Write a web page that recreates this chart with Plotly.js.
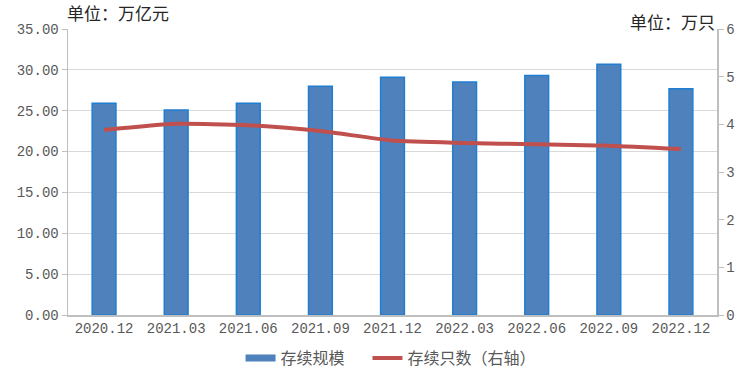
<!DOCTYPE html>
<html><head><meta charset="utf-8">
<script src="https://cdn.plot.ly/plotly-3.0.1.min.js"></script>
<style>body{margin:0;background:#fff}#c{width:747px;height:375px}</style>
</head><body><div id="c"></div>
<script>
const categories = ["2020.12","2021.03","2021.06","2021.09","2021.12","2022.03","2022.06","2022.09","2022.12"];
const scaleValues = [25.9, 25.1, 25.9, 28.0, 29.1, 28.5, 29.3, 30.7, 27.7];
const countValues = [3.88, 4.01, 3.98, 3.86, 3.66, 3.61, 3.58, 3.55, 3.48];
const leftTicks = [0,5,10,15,20,25,30,35];
const leftTickText = ["0.00","5.00","10.00","15.00","20.00","25.00","30.00","35.00"];
const rightTicks = [0,1,2,3,4,5,6];
const seriesNames = ["存续规模", "存续只数（右轴）"];

const tickFont = {family:"Liberation Mono, DejaVu Sans Mono, monospace", size:14, color:"#595959"};
const cjk = "Noto Sans CJK SC, sans-serif";

const data = [
  {type:"bar", x:categories, y:scaleValues, name:seriesNames[0], width:0.33, showlegend:false,
   marker:{color:"#4F81BD", line:{color:"#1F7ED0", width:1.5}}},
  {type:"scatter", mode:"lines", x:[null], y:[null], name:seriesNames[0] + "\u00a0\u00a0\u00a0\u00a0\u00a0",
   line:{color:"#4F81BD", width:7}},
  {type:"scatter", mode:"lines", x:categories, y:countValues, name:seriesNames[1], yaxis:"y2",
   line:{color:"#C0504D", width:4, shape:"spline", smoothing:0.6}}
];
const layout = {
  width:747, height:375,
  margin:{l:68, r:30, t:29, b:60, autoexpand:false},
  paper_bgcolor:"#fff", plot_bgcolor:"#fff",
  showlegend:true,
  legend:{orientation:"h", x:0.497, xanchor:"center", yref:"container", y:0.0, yanchor:"bottom",
    font:{family:cjk, size:16, color:"#595959"}, tracegroupgap:0},
  xaxis:{tickfont:tickFont, showline:true, linecolor:"#BFBFBF", linewidth:1.5,
    ticks:"", showgrid:false, type:"category", automargin:false},
  yaxis:{range:[0,35], tickvals:leftTicks, ticktext:leftTickText, tickfont:tickFont,
    showline:true, linecolor:"#BFBFBF", linewidth:1.5, ticks:"outside", ticklen:5,
    tickcolor:"#BFBFBF", gridcolor:"#D9D9D9", gridwidth:1, zeroline:false, automargin:false},
  yaxis2:{range:[0,6], tickvals:rightTicks, overlaying:"y", side:"right", tickfont:tickFont,
    showline:true, linecolor:"#BFBFBF", linewidth:1.5, ticks:"outside", ticklen:5,
    tickcolor:"#BFBFBF", showgrid:false, zeroline:false, automargin:false},
  annotations:[
    {text:"单位：万亿元", xref:"paper", yref:"paper", x:-0.005, y:1.0, xanchor:"left", yanchor:"bottom",
     yshift:2, showarrow:false, font:{family:cjk, size:17, color:"#262626"}},
    {text:"单位：万只", xref:"paper", yref:"paper", x:1.0, y:1.0, xanchor:"right", yanchor:"middle",
     yshift:8, showarrow:false, font:{family:cjk, size:17, color:"#262626"}}
  ]
};
Plotly.newPlot("c", data, layout, {displayModeBar:false, staticPlot:true});
</script></body></html>
